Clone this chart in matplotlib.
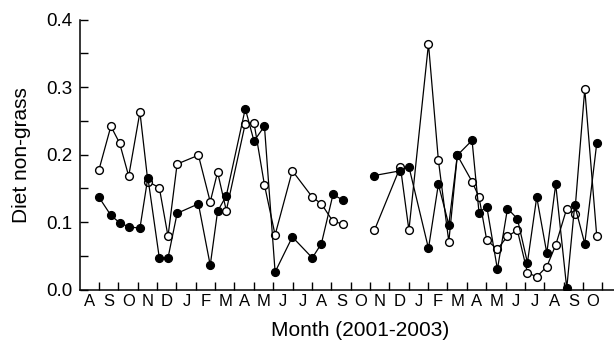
import numpy as np
import matplotlib.pyplot as plt

plt.rcParams['font.family'] = ['Liberation Sans', 'DejaVu Sans']

# month index from Aug 2001 (0) ; two sampling runs with a gap
x1 = [1.00, 1.62, 2.07, 2.54, 3.12, 3.53, 4.12, 4.57, 5.04, 6.14, 6.75, 7.13, 7.58,
      8.56, 9.01, 9.55, 10.10, 10.99, 12.02, 12.49, 13.09, 13.63]
open1 = [0.177, 0.242, 0.217, 0.168, 0.263, 0.160, 0.151, 0.079, 0.186, 0.199, 0.130, 0.174, 0.117,
         0.246, 0.247, 0.155, 0.081, 0.176, 0.137, 0.127, 0.101, 0.097]
filled1 = [0.137, 0.110, 0.099, 0.093, 0.091, 0.166, 0.047, 0.047, 0.113, 0.127, 0.036, 0.116, 0.139,
           0.268, 0.220, 0.242, 0.026, 0.078, 0.047, 0.068, 0.141, 0.132]

x2 = [15.23, 16.57, 17.01, 18.02, 18.53, 19.07, 19.51, 20.27, 20.63, 21.03, 21.58, 22.10, 22.61,
      23.13, 23.61, 24.13, 24.59, 25.16, 25.57, 26.09, 26.71]
open2 = [0.088, 0.182, 0.088, 0.364, 0.192, 0.071, 0.199, 0.160, 0.137, 0.073, 0.060, 0.079, 0.088,
         0.025, 0.019, 0.034, 0.066, 0.120, 0.112, 0.297, 0.079]
filled2 = [0.169, 0.176, 0.182, 0.061, 0.156, 0.096, 0.199, 0.221, 0.114, 0.123, 0.030, 0.120, 0.105,
           0.040, 0.137, 0.054, 0.156, 0.002, 0.125, 0.068, 0.217]

months = ['A', 'S', 'O', 'N', 'D', 'J', 'F', 'M', 'A', 'M', 'J', 'J', 'A', 'S',
          'O', 'N', 'D', 'J', 'F', 'M', 'A', 'M', 'J', 'J', 'A', 'S', 'O']

fig = plt.figure(figsize=(6.14, 3.46), dpi=100)
ax = fig.add_axes([0.1295, 0.163, 0.8705, 0.7805])

for xs, op, fi in [(x1, open1, filled1), (x2, open2, filled2)]:
    ax.plot(xs, op, '-', color='black', lw=0.9, marker='o', ms=5.6,
            mfc='white', mec='black', mew=1.0, zorder=3)
    ax.plot(xs, fi, '-', color='black', lw=0.9, marker='o', ms=5.6,
            mfc='black', mec='black', mew=1.0, zorder=3)

ax.set_xlim(0, 27.6)
ax.set_ylim(0, 0.4)

ax.spines['top'].set_visible(False)
ax.spines['right'].set_visible(False)
ax.spines['left'].set_linewidth(1.1)
ax.spines['bottom'].set_linewidth(1.1)

ax.set_yticks([0.0, 0.1, 0.2, 0.3, 0.4])
ax.set_yticklabels(['0.0', '0.1', '0.2', '0.3', '0.4'], fontsize=13.5)
ax.set_yticks(np.arange(0.05, 0.4, 0.1), minor=True)
ax.tick_params(axis='y', which='both', direction='in', length=6, width=1, pad=5)

ax.set_xticks(np.arange(1, 28))
ax.set_xticklabels([])
ax.set_xticks(np.arange(len(months)) + 0.52, minor=True)
ax.set_xticklabels(months, minor=True, fontsize=12)
ax.tick_params(axis='x', which='major', direction='in', length=6, width=1)
ax.tick_params(axis='x', which='minor', length=0, pad=3)

ax.set_xlabel('Month (2001-2003)', fontsize=15, labelpad=9, x=0.525)
ax.set_ylabel('Diet non-grass', fontsize=15, labelpad=11)

fig.savefig('out.png', dpi=100)
